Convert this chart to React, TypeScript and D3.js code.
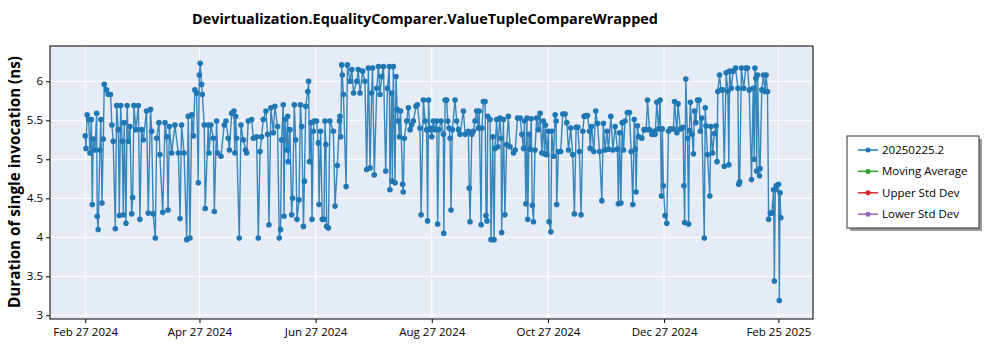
import React, { useEffect, useRef } from "react";
import * as d3 from "d3";

// run offsets in days from Feb 27 2024, and measured durations (ns)
const runDay = [
  0, 0.4, 1, 1.8, 2.5, 3.2, 3.7, 4.2, 5.1, 6, 6.3, 6.8, 7.7, 8.2, 8.8, 9.5, 10, 11.2, 12.1, 13.3,
  14, 14.7, 15.8, 16.5, 17.4, 17.9, 18.6, 19.4, 20, 20.5, 21.4, 22, 22.6, 23.5, 24.4, 24.9, 25.6, 26.6, 27.9, 28.7,
  29.6, 30.5, 32.2, 33.1, 34.3, 34.9, 35.7, 36.8, 37.5, 38.7, 39.2, 40.7, 41.9, 42.8, 43.5, 44.2, 45.4, 47.1, 48.9, 49.8,
  50.6, 51.9, 53.3, 54.1, 55, 55.9, 56.8, 57.6, 58.5, 59.4, 59.9, 60.4, 61.1, 61.5,
  62.5, 63, 64.6, 65, 66, 67.3, 67.8, 69, 69.5, 71.3, 73, 73.9, 75.1, 75.7, 76.9, 78.1, 78.6, 79, 79.5, 80.9,
  81.8, 83, 84.2, 84.8, 85.6, 87.4, 88.3, 90, 90.9, 91.8, 92.6, 93.5, 94.9, 95.8, 96.5, 97.5, 98.8, 99.6, 101, 101.9,
  102.6, 103.1, 104, 104.4, 104.9, 105.8, 106.3, 106.6, 107.5, 108.4, 108.9, 109.8, 110.5, 111.2, 112.3, 113, 113.7, 114.6, 115.1, 115.8,
  116.9, 117.3, 117.8, 118.6, 119.1, 119.8, 120.2,
  121.5, 122.4, 122.8, 123.6, 124.5, 125.4, 125.9, 126.4, 126.8, 127.7, 128.5, 130.3, 131.2, 132.4, 133.5, 133.8, 134.2, 134.7, 135, 135.6,
  137, 137.7, 139.1, 140, 140.9, 142.6, 143.4, 144.3, 145.7, 146.9, 147.8, 148.7, 149.6, 150.4, 150.9, 151.8, 153.1, 154, 154.8, 155.7,
  156.6, 157.8, 158.7, 159.7, 160, 160.9, 161.3, 161.8, 162.7, 163.2, 163.8, 164.4, 165, 165.6, 166.7, 167, 167.6, 168.8, 169.7, 170.6,
  171.4, 172.3, 173.7, 174.4, 175.8, 176.4, 177.6, 178.5, 179.3, 179.8, 180.3, 180.9,
  181.6, 182, 182.8, 183.7, 184.6, 185.1, 185.8, 186.9, 188.1, 188.3, 189, 189.8, 190.4, 191.1, 191.6, 192.1, 192.8, 194.2, 195.1, 196,
  196.8, 198.6, 199.5, 201.2, 201.7, 202.1, 203, 203.8, 204.7, 205.6, 206.4, 206.9, 207.9, 208.3, 209.1, 210, 210.5, 211, 211.4, 212.6,
  213.1, 214, 214.7, 215.2, 216.1, 216.6, 217.8, 218.4, 218.7, 219.6, 220.4, 221.3, 222.2, 223.1, 224.9, 225.8, 227, 228.4, 229.3, 230.2,
  230.7, 231.4, 232, 232.4, 233.1, 233.6, 234.2, 234.8, 235.4, 236.2, 237.1, 238, 238.9, 239.8, 240.6, 241.2,
  241.7, 242.4, 243.3, 243.6, 244.5, 245, 245.9, 246.8, 247.3, 247.6, 248.5, 249.7, 250.8, 252, 252.9, 253.8, 255, 256, 256.9, 257.8,
  258.7, 259.5, 260.4, 261.3, 262, 262.9, 263.8, 264.8, 265.2, 266, 267.1, 268.1, 269, 270.1, 271.3, 272.1, 273, 274, 274.8, 276,
  277.1, 278.3, 279.5, 280, 280.6, 281.3, 282, 282.7, 283.5, 284.7, 285.8, 286.7, 287.6, 288.3, 288.9, 289.3, 290, 290.7, 292.3, 293.5,
  294.6, 295.3, 296.3, 297.6, 298.8, 299.3, 300.2,
  301.1, 301.9, 302.6, 303.1, 303.6, 304.5, 305.4, 306.3, 307.2, 308.9, 309.5, 310.7, 311.3, 312.5, 314, 314.4, 314.8, 315.4, 316.3, 316.9,
  317.3, 317.8, 318.7, 319.4, 320, 320.7, 321.6, 322.4, 323, 323.8, 325.1, 325.6, 326, 326.8, 328, 328.6, 329.5, 330.4, 331.3, 331.8,
  332.2, 333.1, 333.9, 334.8, 335.6, 336.6, 337.5, 338, 338.4, 339.3, 340.2, 341.5, 342.8, 343.2, 343.7, 344.6, 345.8, 346.9, 347.8, 348.7,
  349.9, 350.8, 351.3, 351.7, 352.2, 352.6, 353.1, 354.1, 354.4, 355.3, 356.2, 357, 357.6, 358.3, 358.9, 359.8, 360.6, 361.5, 361.9, 362.4,
  362.9, 364.1, 364.5, 364.9, 365.3,
];

const runNs = [
  5.3, 5.14, 5.57, 5.51, 5.08, 5.51, 4.42, 5.26, 5.12, 5.59, 4.27, 4.1, 5.12, 5.51, 4.44, 5.26, 5.96, 5.89, 5.83, 5.83,
  5.44, 5.23, 4.11, 5.69, 5.38, 4.28, 5.69, 5.23, 4.29, 5.47, 4.18, 5.69, 5.23, 5.42, 4.3, 4.51, 5.69, 5.38, 5.69, 4.23,
  5.38, 5.25, 5.62, 4.31, 5.64, 5.36, 4.3, 3.99, 5.27, 5.47, 5.06, 4.32, 5.47, 5.29, 4.35, 5.42, 5.08, 5.44, 5.08, 4.24,
  5.44, 5.08, 3.97, 5.55, 3.99, 5.57, 5.3, 5.89, 5.85, 4.7, 6.08, 6.23, 5.96, 5.83,
  5.44, 4.37, 5.44, 5.08, 5.44, 5.27, 4.33, 5.49, 5.08, 5.04, 5.44, 5.49, 5.27, 5.12, 5.59, 5.62, 5.08, 5.55, 5.27, 3.99,
  5.44, 5.25, 5.12, 5.08, 5.49, 5.51, 5.27, 5.29, 3.99, 5.1, 5.29, 5.51, 5.62, 5.32, 4.16, 5.66, 5.34, 5.68, 5.42, 3.99,
  4.1, 5.25, 5.7, 4.27, 5.51, 5.12, 5.55, 4.97, 5.38, 4.29, 4.5, 5.7, 5.25, 4.23, 4.48, 5.7, 5.42, 4.14, 4.72, 5.68,
  5.87, 6.0, 4.97, 5.47, 4.23, 5.36, 5.49,
  5.49, 5.21, 4.42, 5.36, 4.23, 4.23, 5.49, 5.19, 4.14, 4.12, 5.49, 5.36, 4.4, 4.92, 5.49, 5.55, 5.29, 6.21, 6.08, 5.83,
  4.65, 6.21, 6.0, 6.15, 5.85, 6.0, 6.15, 5.85, 6.13, 6.0, 4.87, 6.17, 4.89, 5.85, 6.17, 4.8, 5.91, 6.19, 5.83, 6.06,
  6.19, 4.85, 5.91, 6.19, 4.61, 5.85, 4.72, 6.19, 4.7, 6.06, 5.64, 5.49, 5.29, 5.62, 4.68, 4.58, 5.27, 5.49, 5.66, 5.38,
  5.44, 5.49, 5.68, 5.7, 5.4, 4.29, 5.76, 5.49, 5.38, 4.21, 5.76, 5.38,
  5.4, 5.29, 5.49, 5.38, 5.49, 4.17, 5.38, 5.49, 5.32, 4.05, 5.76, 5.76, 5.49, 5.4, 5.27, 4.35, 5.38, 5.76, 5.49, 5.38,
  5.32, 5.62, 5.32, 5.36, 4.63, 4.2, 5.32, 5.36, 5.49, 5.62, 5.4, 5.62, 4.16, 5.4, 5.74, 5.74, 4.28, 4.21, 5.55, 5.51,
  3.97, 5.29, 3.97, 5.14, 5.51, 5.16, 5.53, 5.27, 4.06, 5.51, 4.29, 5.19, 5.55, 5.16, 5.08, 5.12, 5.53, 5.53, 5.32, 5.14,
  5.49, 4.43, 5.53, 4.23, 5.32, 5.13, 5.52, 4.41, 4.2, 5.12, 5.53, 5.38, 5.59, 5.08, 5.49, 5.07,
  5.44, 5.06, 5.36, 4.2, 4.07, 5.36, 5.04, 5.57, 5.49, 4.42, 5.1, 5.1, 5.58, 5.58, 5.47, 5.12, 5.4, 5.06, 4.3, 5.41,
  5.41, 5.1, 4.29, 5.36, 5.55, 5.56, 5.56, 5.36, 5.14, 5.42, 5.1, 5.62, 5.46, 5.1, 4.47, 5.46, 5.12, 5.36, 5.13, 5.55,
  5.12, 5.42, 5.13, 4.43, 5.34, 4.44, 5.47, 5.12, 5.49, 5.6, 5.6, 5.1, 4.42, 5.51, 5.13, 4.58, 5.43, 5.29, 5.27, 5.38,
  5.38, 5.76, 5.38, 5.32, 5.36, 5.32, 5.73,
  5.39, 5.76, 4.53, 5.39, 4.66, 4.28, 4.18, 5.36, 5.39, 5.39, 5.74, 5.34, 5.71, 5.39, 5.41, 4.66, 4.19, 6.03, 5.27, 4.17,
  5.37, 5.73, 5.32, 5.07, 5.62, 5.47, 5.76, 5.76, 5.36, 5.53, 3.99, 5.66, 5.43, 5.06, 4.53, 5.42, 5.08, 5.33, 5.43, 4.97,
  5.87, 6.08, 5.89, 5.89, 4.91, 6.11, 5.87, 4.93, 6.13, 5.91, 6.13, 6.17, 5.91, 4.68, 4.71, 6.17, 5.91, 6.17, 6.17, 5.89,
  4.74, 5.91, 5.0, 6.17, 6.04, 4.85, 6.08, 4.79, 4.88, 5.89, 6.08, 5.87, 6.08, 5.87, 4.23, 4.31, 4.31, 4.61, 3.44, 4.61,
  4.66, 4.68, 3.19, 4.57, 4.25,
];

const tickDates = ["2024-02-27", "2024-04-27", "2024-06-27", "2024-08-27", "2024-10-27", "2024-12-27", "2025-02-25"];
const yTicks = [3, 3.5, 4, 4.5, 5, 5.5, 6];
const legendNames = ["20250225.2", "Moving Average", "Upper Std Dev", "Lower Std Dev"];
const legendColors = ["#1f77b4", "#2ca02c", "#d62728", "#9467bd"];

const FONT = "'Open Sans', 'Noto Sans', sans-serif";

export default function App() {
  const ref = useRef<SVGSVGElement>(null);

  useEffect(() => {
    if (!ref.current) return;
    const svg = d3.select(ref.current);
    svg.selectAll("*").remove();

    const left = 50, right = 813, top = 46, bottom = 319;
    const start = Date.UTC(2024, 1, 27);
    const day = 864e5;

    const x = d3
      .scaleUtc()
      .domain([new Date(start - 18.5 * day), new Date(start + 382.2 * day)])
      .range([left, right]);
    const y = d3.scaleLinear().domain([2.9526, 6.4526]).range([bottom, top]);

    const data = runDay.map((d, i) => ({ date: new Date(start + d * day), v: runNs[i] }));

    svg
      .append("rect")
      .attr("x", left)
      .attr("y", top)
      .attr("width", right - left)
      .attr("height", bottom - top)
      .attr("fill", "#e5ecf6");

    const ticks = tickDates.map((s) => new Date(s + "T00:00:00Z"));

    // grid
    svg
      .append("g")
      .selectAll("line")
      .data(yTicks)
      .join("line")
      .attr("x1", left)
      .attr("x2", right)
      .attr("y1", (d) => y(d))
      .attr("y2", (d) => y(d))
      .attr("stroke", "#fff")
      .attr("stroke-width", 1);
    svg
      .append("g")
      .selectAll("line")
      .data(ticks)
      .join("line")
      .attr("x1", (d) => x(d))
      .attr("x2", (d) => x(d))
      .attr("y1", top)
      .attr("y2", bottom)
      .attr("stroke", "#fff")
      .attr("stroke-width", 1);

    // series
    const line = d3
      .line<{ date: Date; v: number }>()
      .x((d) => x(d.date))
      .y((d) => y(d.v));
    svg
      .append("path")
      .datum(data)
      .attr("d", line)
      .attr("fill", "none")
      .attr("stroke", "#1f77b4")
      .attr("stroke-opacity", 0.88)
      .attr("stroke-width", 1.4);
    svg
      .append("g")
      .selectAll("circle")
      .data(data)
      .join("circle")
      .attr("cx", (d) => x(d.date))
      .attr("cy", (d) => y(d.v))
      .attr("r", 2.8)
      .attr("fill", "#1f77b4");

    // frame
    svg
      .append("rect")
      .attr("x", left)
      .attr("y", top)
      .attr("width", right - left)
      .attr("height", bottom - top)
      .attr("fill", "none")
      .attr("stroke", "#000")
      .attr("stroke-width", 1);

    // axes
    const xAxis = svg
      .append("g")
      .attr("transform", `translate(0,${bottom})`)
      .call(
        d3
          .axisBottom(x)
          .tickValues(ticks)
          .tickSize(4)
          .tickFormat((d) => d3.utcFormat("%b %d %Y")(d as Date))
      );
    xAxis.select(".domain").remove();
    xAxis.selectAll("text").attr("font-size", 11.5).attr("font-family", FONT).attr("fill", "#000").attr("dy", "0.9em");

    const yAxis = svg
      .append("g")
      .attr("transform", `translate(${left},0)`)
      .call(d3.axisLeft(y).tickValues(yTicks).tickSize(4).tickFormat((d) => `${d}`));
    yAxis.select(".domain").remove();
    yAxis.selectAll("text").attr("font-size", 11.5).attr("font-family", FONT).attr("fill", "#000");

    // titles
    svg
      .append("text")
      .attr("x", 425)
      .attr("y", 24)
      .attr("text-anchor", "middle")
      .attr("font-family", FONT)
      .attr("font-weight", "bold")
      .attr("font-size", 15)
      .attr("textLength", 466)
      .attr("lengthAdjust", "spacingAndGlyphs")
      .text("Devirtualization.EqualityComparer.ValueTupleCompareWrapped");

    svg
      .append("text")
      .attr("transform", `translate(20,182) rotate(-90)`)
      .attr("text-anchor", "middle")
      .attr("font-family", FONT)
      .attr("font-weight", "bold")
      .attr("font-size", 15.5)
      .attr("textLength", 252)
      .attr("lengthAdjust", "spacingAndGlyphs")
      .text("Duration of single invocation (ns)");

    // legend
    const lg = svg.append("g").attr("transform", "translate(847,136)");
    lg.append("rect").attr("x", 3).attr("y", 3).attr("width", 132).attr("height", 92).attr("fill", "#9a9a9a");
    lg.append("rect")
      .attr("width", 132)
      .attr("height", 92)
      .attr("fill", "#fff")
      .attr("stroke", "#333")
      .attr("stroke-width", 1);
    legendNames.forEach((name, i) => {
      const row = lg.append("g").attr("transform", `translate(0,${14 + i * 21.4})`);
      row.append("line").attr("x1", 11).attr("x2", 31).attr("stroke", legendColors[i]).attr("stroke-width", 1.5);
      row.append("circle").attr("cx", 21).attr("r", 2.5).attr("fill", legendColors[i]);
      row
        .append("text")
        .attr("x", 35)
        .attr("dy", "0.35em")
        .attr("font-family", FONT)
        .attr("font-size", 11.5)
        .text(name);
    });
  }, []);

  return (
    <div style={{ position: "absolute", left: 0, top: 0 }}>
      <svg ref={ref} width={1000} height={350} style={{ display: "block", background: "#fff" }} />
    </div>
  );
}
